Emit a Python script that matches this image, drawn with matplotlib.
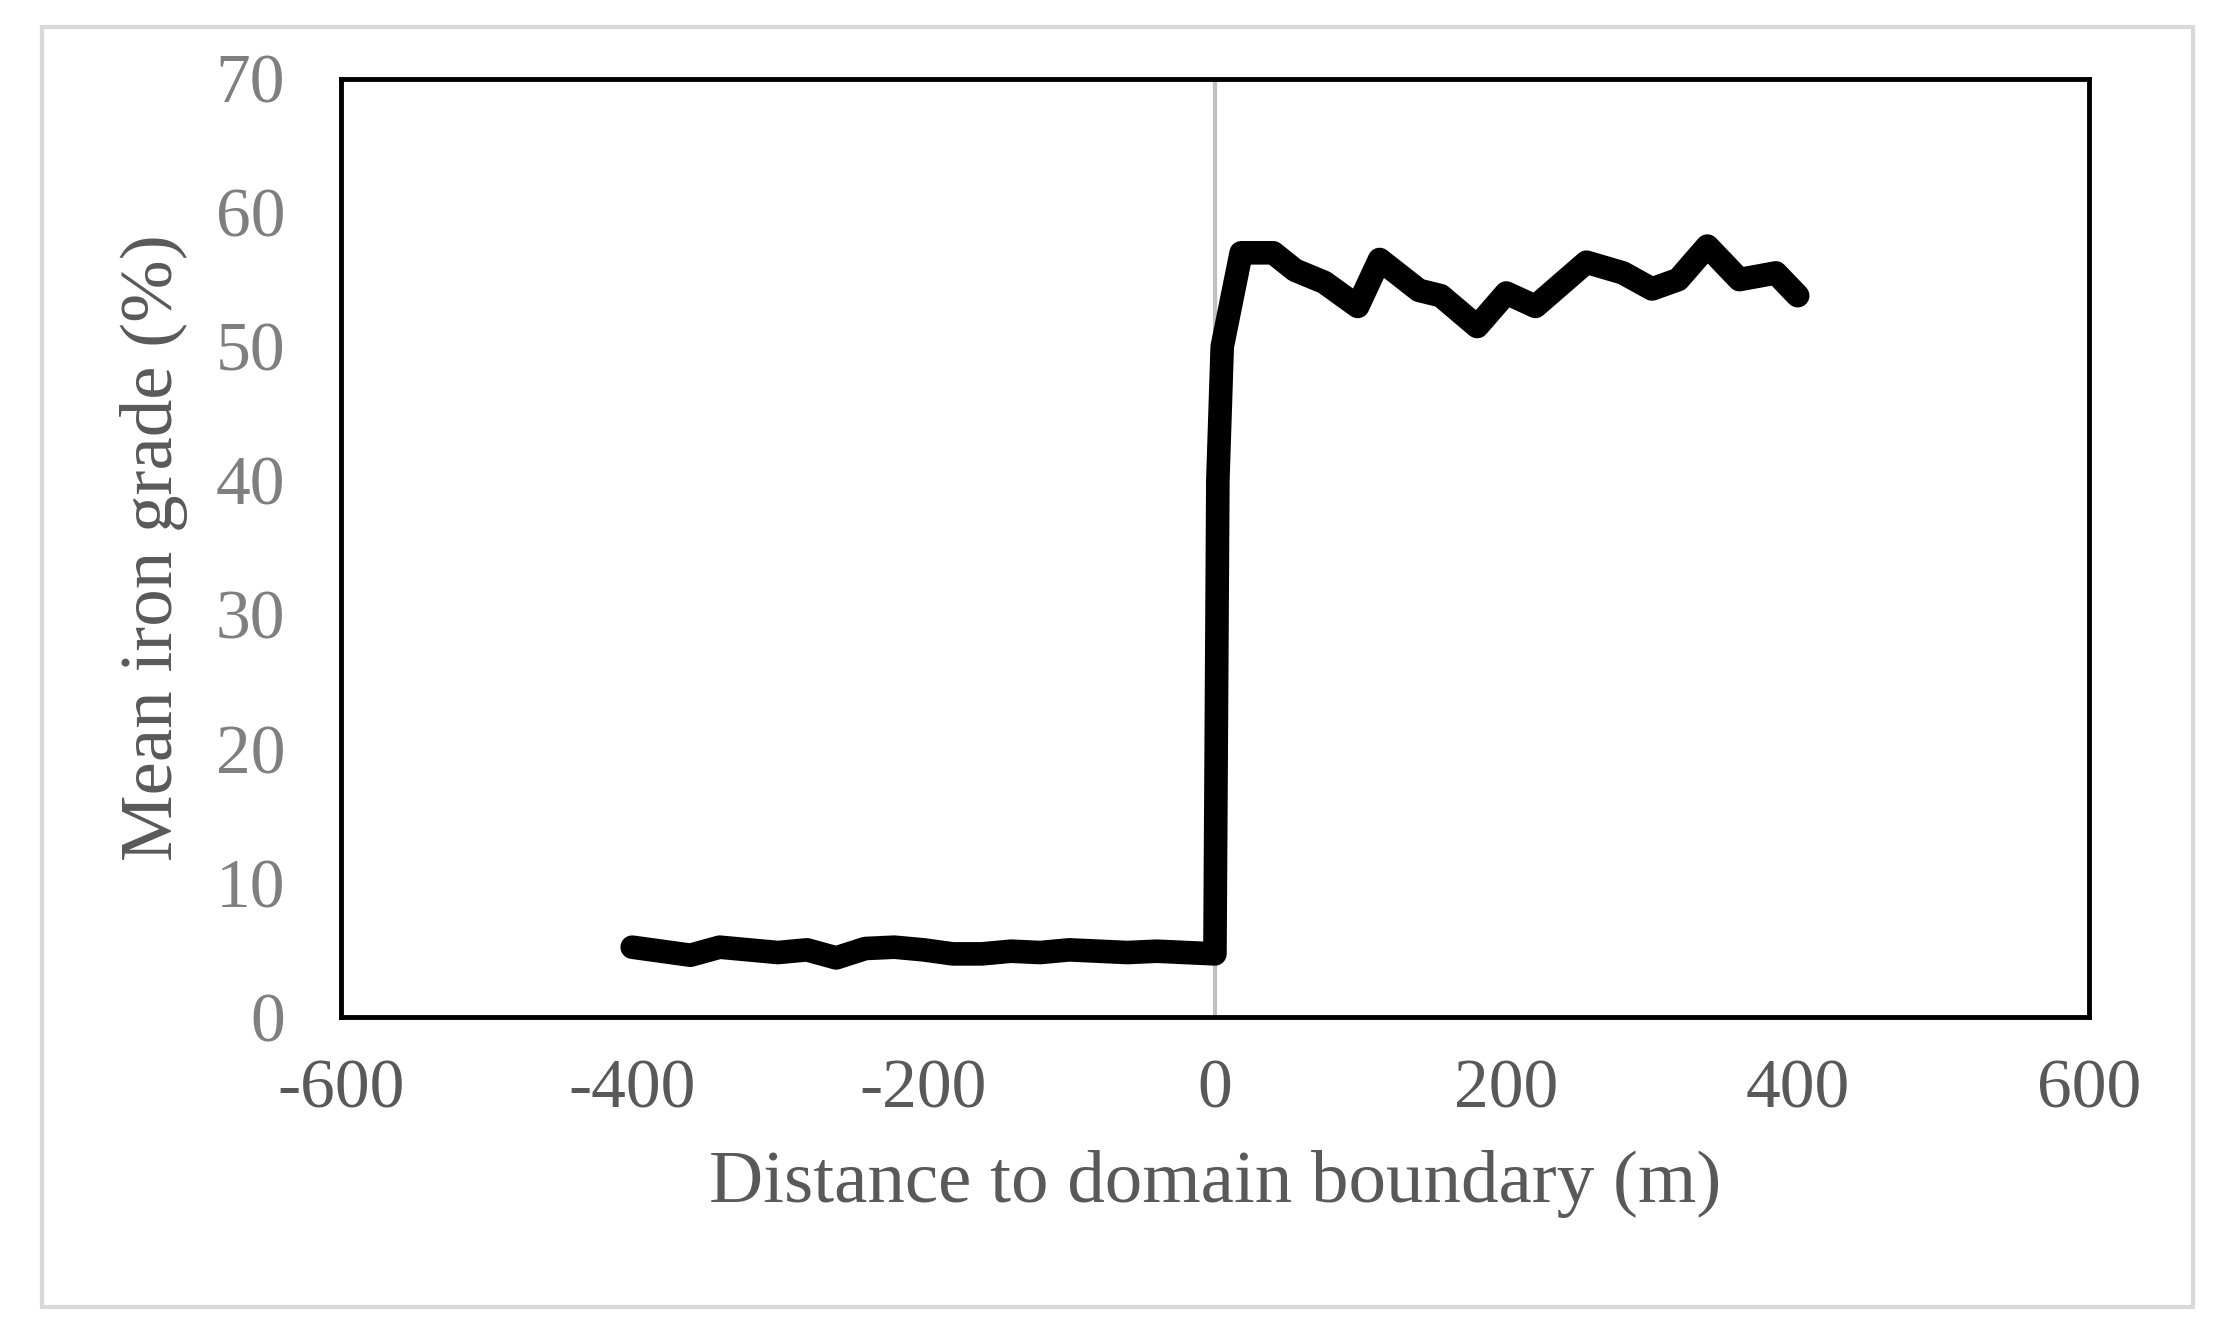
import matplotlib
matplotlib.use('Agg')
import matplotlib.pyplot as plt
from matplotlib.patches import Rectangle

# distance to boundary (m) and mean iron grade (%)
dist = [-400, -380, -360, -340, -320, -300, -280, -260, -240, -220, -200, -180, -160,
        -140, -120, -100, -80, -60, -40, -20, 0, 2, 5, 18, 40, 55, 75, 98, 113, 140,
        155, 180, 200, 220, 255, 280, 300, 318, 338, 360, 385, 400]
grade = [5.2, 4.9, 4.6, 5.2, 5.0, 4.8, 5.0, 4.4, 5.1, 5.2, 5.0, 4.7, 4.7,
         4.9, 4.8, 5.0, 4.9, 4.8, 4.9, 4.8, 4.7, 40.0, 50.0, 57.0, 57.0, 55.7, 54.8, 53.0, 56.5, 54.2,
         53.8, 51.5, 54.0, 53.0, 56.3, 55.5, 54.3, 55.0, 57.5, 55.0, 55.5, 53.8]

plt.rcParams['font.family'] = ['Liberation Serif', 'DejaVu Serif']
plt.rcParams['axes.unicode_minus'] = False
grey = '#595959'

fig = plt.figure(figsize=(22.13, 13.31), dpi=100)
fig.patches.append(Rectangle((0.019, 0.018), 0.972, 0.962, transform=fig.transFigure,
                             fill=False, edgecolor='#d9d9d9', lw=3))
ax = fig.add_axes([0.154, 0.236, 0.79, 0.705])
ax.axvline(0, color='#bfbfbf', lw=3, zorder=1)
ax.plot(dist, grade, color='black', lw=17, solid_capstyle='round', solid_joinstyle='round', zorder=2)
ax.set_xlim(-600, 600)
ax.set_ylim(0, 70)
ax.set_xticks(range(-600, 601, 200))
ax.set_yticks(range(0, 71, 10))
ax.tick_params(axis='x', length=0, labelsize=50, labelcolor=grey, pad=30)
ax.tick_params(axis='y', length=0, labelsize=50, labelcolor='#7f7f7f', pad=40)
for s in ax.spines.values():
    s.set_linewidth(3.5)
ax.set_xlabel('Distance to domain boundary (m)', fontsize=54, color=grey, labelpad=20)
ax.set_ylabel('Mean iron grade (%)', fontsize=54, color=grey, labelpad=20)
fig.savefig('out.png', dpi=100)
